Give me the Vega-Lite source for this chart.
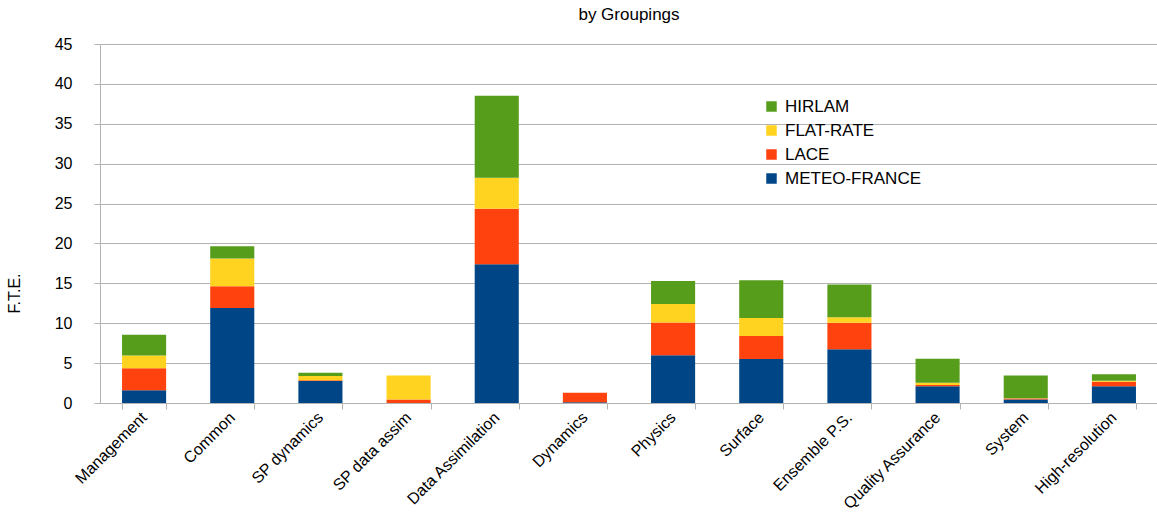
{
  "$schema": "https://vega.github.io/schema/vega-lite/v6.json",
  "width": 1058,
  "height": 359,
  "padding": {"left": 6, "top": 6, "right": 2, "bottom": 2},
  "background": "white",
  "title": {"text": "by Groupings", "fontSize": 17, "fontWeight": "normal", "font": "Liberation Sans", "color": "#000000", "offset": 12},
  "data": {"values": [
    {"group": "Management", "series": "METEO-FRANCE", "fte": 1.6, "rank": 1},
    {"group": "Management", "series": "LACE", "fte": 2.75, "rank": 2},
    {"group": "Management", "series": "FLAT-RATE", "fte": 1.6, "rank": 3},
    {"group": "Management", "series": "HIRLAM", "fte": 2.6, "rank": 4},
    {"group": "Common", "series": "METEO-FRANCE", "fte": 11.9, "rank": 1},
    {"group": "Common", "series": "LACE", "fte": 2.75, "rank": 2},
    {"group": "Common", "series": "FLAT-RATE", "fte": 3.45, "rank": 3},
    {"group": "Common", "series": "HIRLAM", "fte": 1.55, "rank": 4},
    {"group": "SP dynamics", "series": "METEO-FRANCE", "fte": 2.75, "rank": 1},
    {"group": "SP dynamics", "series": "LACE", "fte": 0.1, "rank": 2},
    {"group": "SP dynamics", "series": "FLAT-RATE", "fte": 0.55, "rank": 3},
    {"group": "SP dynamics", "series": "HIRLAM", "fte": 0.4, "rank": 4},
    {"group": "SP data assim", "series": "METEO-FRANCE", "fte": 0, "rank": 1},
    {"group": "SP data assim", "series": "LACE", "fte": 0.45, "rank": 2},
    {"group": "SP data assim", "series": "FLAT-RATE", "fte": 3.0, "rank": 3},
    {"group": "SP data assim", "series": "HIRLAM", "fte": 0, "rank": 4},
    {"group": "Data Assimilation", "series": "METEO-FRANCE", "fte": 17.4, "rank": 1},
    {"group": "Data Assimilation", "series": "LACE", "fte": 6.95, "rank": 2},
    {"group": "Data Assimilation", "series": "FLAT-RATE", "fte": 3.9, "rank": 3},
    {"group": "Data Assimilation", "series": "HIRLAM", "fte": 10.25, "rank": 4},
    {"group": "Dynamics", "series": "METEO-FRANCE", "fte": 0.1, "rank": 1},
    {"group": "Dynamics", "series": "LACE", "fte": 1.2, "rank": 2},
    {"group": "Dynamics", "series": "FLAT-RATE", "fte": 0, "rank": 3},
    {"group": "Dynamics", "series": "HIRLAM", "fte": 0, "rank": 4},
    {"group": "Physics", "series": "METEO-FRANCE", "fte": 6.0, "rank": 1},
    {"group": "Physics", "series": "LACE", "fte": 4.1, "rank": 2},
    {"group": "Physics", "series": "FLAT-RATE", "fte": 2.3, "rank": 3},
    {"group": "Physics", "series": "HIRLAM", "fte": 2.9, "rank": 4},
    {"group": "Surface", "series": "METEO-FRANCE", "fte": 5.5, "rank": 1},
    {"group": "Surface", "series": "LACE", "fte": 2.9, "rank": 2},
    {"group": "Surface", "series": "FLAT-RATE", "fte": 2.25, "rank": 3},
    {"group": "Surface", "series": "HIRLAM", "fte": 4.75, "rank": 4},
    {"group": "Ensemble P.S.", "series": "METEO-FRANCE", "fte": 6.75, "rank": 1},
    {"group": "Ensemble P.S.", "series": "LACE", "fte": 3.3, "rank": 2},
    {"group": "Ensemble P.S.", "series": "FLAT-RATE", "fte": 0.7, "rank": 3},
    {"group": "Ensemble P.S.", "series": "HIRLAM", "fte": 4.1, "rank": 4},
    {"group": "Quality Assurance", "series": "METEO-FRANCE", "fte": 2.1, "rank": 1},
    {"group": "Quality Assurance", "series": "LACE", "fte": 0.15, "rank": 2},
    {"group": "Quality Assurance", "series": "FLAT-RATE", "fte": 0.3, "rank": 3},
    {"group": "Quality Assurance", "series": "HIRLAM", "fte": 3.0, "rank": 4},
    {"group": "System", "series": "METEO-FRANCE", "fte": 0.45, "rank": 1},
    {"group": "System", "series": "LACE", "fte": 0.1, "rank": 2},
    {"group": "System", "series": "FLAT-RATE", "fte": 0.05, "rank": 3},
    {"group": "System", "series": "HIRLAM", "fte": 2.85, "rank": 4},
    {"group": "High-resolution", "series": "METEO-FRANCE", "fte": 2.1, "rank": 1},
    {"group": "High-resolution", "series": "LACE", "fte": 0.55, "rank": 2},
    {"group": "High-resolution", "series": "FLAT-RATE", "fte": 0.15, "rank": 3},
    {"group": "High-resolution", "series": "HIRLAM", "fte": 0.8, "rank": 4}
  ]},
  "mark": {"type": "bar"},
  "encoding": {
    "x": {
      "field": "group", "type": "nominal", "sort": null,
      "scale": {"paddingInner": 0.5, "paddingOuter": 0.25},
      "axis": {
        "title": null, "labelAngle": -45, "labelFont": "Liberation Sans", "labelFontSize": 16,
        "labelColor": "#000000", "tickBand": "extent", "domainColor": "#b3b3b3", "tickColor": "#b3b3b3",
        "tickSize": 6, "labelPadding": 0, "labelOffset": -6, "grid": false
      }
    },
    "y": {
      "field": "fte", "type": "quantitative", "aggregate": "sum", "stack": "zero",
      "scale": {"domain": [0, 45], "nice": false},
      "axis": {
        "title": "F.T.E.", "titleFont": "Liberation Sans", "titleFontSize": 16, "titleFontWeight": "normal",
        "titleColor": "#000000", "titleX": -78, "titleY": 249, "titleAngle": 270,
        "values": [0, 5, 10, 15, 20, 25, 30, 35, 40, 45],
        "labelFont": "Liberation Sans", "labelFontSize": 16, "labelColor": "#000000",
        "gridColor": "#b3b3b3", "domainColor": "#b3b3b3", "tickColor": "#b3b3b3",
        "tickSize": 6, "labelPadding": 22
      }
    },
    "color": {
      "field": "series", "type": "nominal",
      "scale": {"domain": ["HIRLAM", "FLAT-RATE", "LACE", "METEO-FRANCE"], "range": ["#579d1c", "#ffd320", "#ff420e", "#004586"]},
      "legend": {
        "title": null, "orient": "none", "legendX": 663, "legendY": 54, "symbolType": "square",
        "symbolSize": 110, "symbolStrokeWidth": 0, "labelFont": "Liberation Sans", "labelFontSize": 17,
        "labelColor": "#000000", "rowPadding": 6, "labelOffset": 5
      }
    },
    "order": {"field": "rank", "type": "quantitative", "sort": "ascending"}
  },
  "config": {"view": {"stroke": null}}
}
